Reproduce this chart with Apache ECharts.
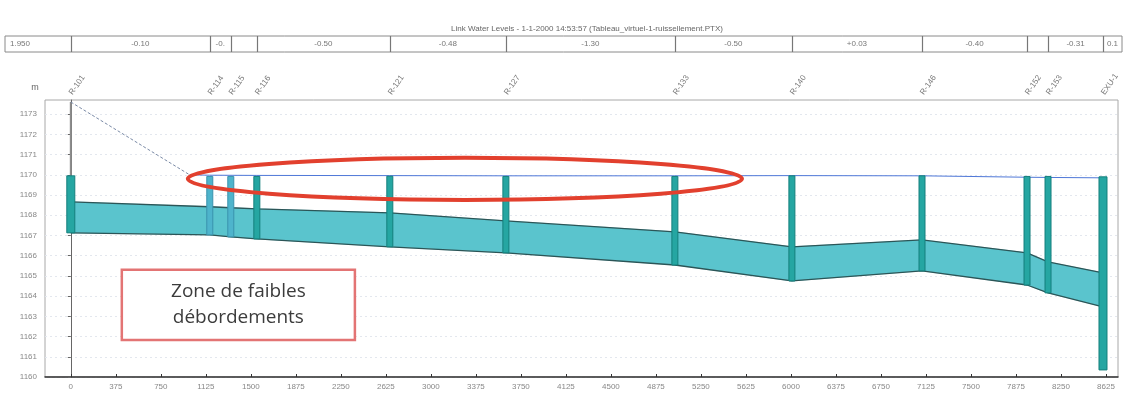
<!DOCTYPE html>
<html>
<head>
<meta charset="utf-8">
<script src="https://cdn.jsdelivr.net/npm/echarts@6/dist/echarts.min.js"></script>
<style>
  html, body { margin: 0; padding: 0; background: #fff; }
  #chart { width: 1129px; height: 396px; }
</style>
</head>
<body>
<div id="chart"></div>
<script>
const titleText = 'Link Water Levels - 1-1-2000 14:53:57 (Tableau_virtuel-1-ruissellement.PTX)';
const nodeNames = ['R-101', 'R-114', 'R-115', 'R-116', 'R-121', 'R-127', 'R-133', 'R-140', 'R-146', 'R-152', 'R-153', 'EXU-1'];
const nodeStations = [0, 1158, 1333, 1550, 2658, 3625, 5033, 6008, 7092, 7967, 8142, 8600];
const crownLevels = [1168.66, 1168.42, 1168.37, 1168.32, 1168.12, 1167.72, 1167.18, 1166.44, 1166.78, 1166.14, 1165.69, 1165.15];
const invertLevels = [1167.13, 1167.03, 1166.93, 1166.83, 1166.44, 1166.14, 1165.54, 1164.75, 1165.25, 1164.55, 1164.16, 1163.47];
const nodeBottoms = [1167.13, 1167.03, 1166.93, 1166.83, 1166.44, 1166.14, 1165.54, 1164.75, 1165.25, 1164.55, 1164.16, 1160.35];
const nodeWaterLevels = [1169.95, 1169.92, 1169.92, 1169.92, 1169.93, 1169.92, 1169.92, 1169.95, 1169.95, 1169.92, 1169.92, 1169.9];
const firstNodeTop = 1173.6;

// ligne d'eau
const hglUpStations = [0, 990];
const hglUpLevels = [1173.6, 1170.0];
const hglStations = [990, 1158, 1550, 2658, 3625, 5033, 6008, 7092, 7967, 8142, 8600];
const hglLevels = [1170.0, 1169.98, 1169.97, 1169.96, 1169.95, 1169.95, 1169.96, 1169.95, 1169.88, 1169.87, 1169.85];

// bandeau du haut (pentes des tronçons)
const conduitLabels = ['-0.10', '-0.', '', '-0.50', '-0.48', '-1.30', '-0.50', '+0.03', '-0.40', '', '-0.31'];
const leftCellLabel = '1.950';
const rightCellLabel = '0.1';

// graduations
const xTicks = [0, 375, 750, 1125, 1500, 1875, 2250, 2625, 3000, 3375, 3750, 4125, 4500, 4875, 5250, 5625, 6000, 6375, 6750, 7125, 7500, 7875, 8250, 8625];
const yTicks = [1160, 1161, 1162, 1163, 1164, 1165, 1166, 1167, 1168, 1169, 1170, 1171, 1172, 1173];
const yUnit = 'm';

// annotations
const zoneStations = [975, 5592];
const zoneLevels = [1168.76, 1170.84];
const noteStations = [425, 2367];
const noteLevels = [1161.83, 1165.3];
const noteText = 'Zone de faibles\ndébordements';

const X_MIN = -215, X_MAX = 8725, Y_MIN = 1160, Y_MAX = 1173.7;

const chart = echarts.init(document.getElementById('chart'));

// un polygone par tronçon : [s amont, s aval, radier amont, radier aval, génératrice amont, génératrice aval]
const pipeSegments = nodeStations.slice(0, -1).map((s, i) => [
  s, nodeStations[i + 1], invertLevels[i], invertLevels[i + 1], crownLevels[i], crownLevels[i + 1],
]);
const invertLine = nodeStations.map((s, i) => [s, invertLevels[i]]);
const crownLine = nodeStations.map((s, i) => [s, crownLevels[i]]);
const nodeData = nodeStations.map((s, i) => [s, nodeBottoms[i], nodeWaterLevels[i]]);

const option = {
  animation: false,
  backgroundColor: '#fff',
  textStyle: { fontFamily: 'Liberation Sans, Arial, sans-serif' },
  title: {
    text: titleText,
    left: 582, top: 20, textAlign: 'center',
    textStyle: { fontSize: 8, fontWeight: 'normal', color: '#666' },
  },
  grid: { left: 45, right: 11, top: 100, bottom: 19, show: true, borderColor: '#a8a8a8', borderWidth: 1 },
  xAxis: [
    {
      type: 'value', min: X_MIN, max: X_MAX, position: 'bottom',
      axisLine: { onZero: false, lineStyle: { color: '#333', width: 1.5 } },
      axisTick: { customValues: xTicks, length: 3, inside: true, lineStyle: { color: '#333' } },
      axisLabel: { customValues: xTicks, fontSize: 8, color: '#888', margin: 6, formatter: v => String(v) },
      splitLine: { show: false },
    },
    {
      type: 'value', min: X_MIN, max: X_MAX, position: 'top',
      axisLine: { show: false },
      axisTick: { show: false },
      axisLabel: {
        customValues: nodeStations, rotate: -55, fontSize: 8, color: '#777', margin: 6,
        formatter: v => nodeNames[nodeStations.indexOf(v)] || '',
      },
      splitLine: { show: false },
    },
  ],
  yAxis: {
    type: 'value', min: Y_MIN, max: Y_MAX,
    axisLine: { show: true, lineStyle: { color: '#666' } },
    axisTick: { customValues: yTicks, length: 3, lineStyle: { color: '#666' } },
    axisLabel: { customValues: yTicks, fontSize: 8, color: '#888', margin: 8, formatter: v => String(v) },
    splitLine: { show: true, lineStyle: { color: '#e3e7ee', type: [2, 3] } },
  },
  series: [
    {
      name: 'conduite', type: 'custom', z: 2, data: pipeSegments,
      renderItem: (params, api) => {
        const a0 = api.coord([api.value(0), api.value(2)]);
        const b0 = api.coord([api.value(1), api.value(3)]);
        const b1 = api.coord([api.value(1), api.value(5)]);
        const a1 = api.coord([api.value(0), api.value(4)]);
        return {
          type: 'polygon',
          shape: { points: [a0, b0, b1, a1] },
          style: { fill: '#5ac4cd', stroke: '#5ac4cd', lineWidth: 0.5 },
        };
      },
    },
    {
      name: 'génératrice', type: 'line', z: 3, data: crownLine, symbol: 'none',
      lineStyle: { color: '#2c5557', width: 1.3 },
    },
    {
      name: 'fil d\'eau', type: 'line', z: 3, data: invertLine, symbol: 'none',
      lineStyle: { color: '#2c5557', width: 1.3 },
    },
    {
      name: 'regard amont', type: 'line', z: 3,
      data: [[nodeStations[0], invertLevels[0]], [nodeStations[0], firstNodeTop]],
      symbol: 'none', lineStyle: { color: '#8c8c8c', width: 2 },
    },
    {
      name: 'ligne d\'eau amont', type: 'line', z: 4,
      data: hglUpStations.map((s, i) => [s, hglUpLevels[i]]),
      symbol: 'none', lineStyle: { color: '#7a8aa6', width: 1, type: [3, 2] },
    },
    {
      name: 'ligne d\'eau', type: 'line', z: 4,
      data: hglStations.map((s, i) => [s, hglLevels[i]]),
      symbol: 'none', lineStyle: { color: '#4f78d8', width: 1 },
    },
    {
      name: 'regards', type: 'custom', z: 5, data: nodeData,
      renderItem: (params, api) => {
        const i = params.dataIndex;
        const top = api.coord([api.value(0), api.value(2)]);
        const bot = api.coord([api.value(0), api.value(1)]);
        const w = (i === 0 || i === nodeData.length - 1) ? 8 : 6;
        const light = i === 1 || i === 2;
        return {
          type: 'rect',
          shape: { x: top[0] - w / 2, y: top[1], width: w, height: bot[1] - top[1] },
          style: { fill: light ? '#4eb4cc' : '#25a6a2', stroke: light ? '#3a93ad' : '#147f7c', lineWidth: 1 },
        };
      },
    },
  ],
};

chart.setOption(option);

// bandeau, ellipse et encadré en surimpression
function px(s, v) { return chart.convertToPixel({ gridIndex: 0 }, [s, v]); }

const graphics = [];
const bandTop = 36, bandBot = 52, bandL = 5, bandR = 1122;
graphics.push({ type: 'line', shape: { x1: bandL, y1: bandTop, x2: bandR, y2: bandTop }, style: { stroke: '#8a8a8a', lineWidth: 1 } });
graphics.push({ type: 'line', shape: { x1: bandL, y1: bandBot, x2: bandR, y2: bandBot }, style: { stroke: '#8a8a8a', lineWidth: 1 } });
[bandL, bandR].forEach(x => graphics.push({ type: 'line', shape: { x1: x, y1: bandTop, x2: x, y2: bandBot }, style: { stroke: '#8a8a8a', lineWidth: 1 } }));
nodeStations.forEach(s => {
  const x = Math.round(px(s, Y_MIN)[0]) + 0.5;
  graphics.push({ type: 'line', shape: { x1: x, y1: bandTop, x2: x, y2: bandBot }, style: { stroke: '#777', lineWidth: 1.2 } });
});
conduitLabels.forEach((t, i) => {
  if (!t) return;
  const x = (px(nodeStations[i], Y_MIN)[0] + px(nodeStations[i + 1], Y_MIN)[0]) / 2;
  graphics.push({ type: 'text', x, y: 44, style: { text: t, fontSize: 8, fill: '#777', align: 'center', verticalAlign: 'middle' } });
});
graphics.push({ type: 'text', x: 10, y: 44, style: { text: leftCellLabel, fontSize: 8, fill: '#777', align: 'left', verticalAlign: 'middle' } });
graphics.push({ type: 'text', x: (px(nodeStations[nodeStations.length - 1], Y_MIN)[0] + bandR) / 2, y: 44, style: { text: rightCellLabel, fontSize: 8, fill: '#777', align: 'center', verticalAlign: 'middle' } });

// unité de l'axe vertical
graphics.push({ type: 'text', x: 35, y: 88, style: { text: yUnit, fontSize: 9, fill: '#666', align: 'center', verticalAlign: 'middle' } });

const zA = px(zoneStations[0], zoneLevels[1]);
const zB = px(zoneStations[1], zoneLevels[0]);
graphics.push({
  type: 'ellipse', z: 100,
  shape: { cx: (zA[0] + zB[0]) / 2, cy: (zA[1] + zB[1]) / 2, rx: (zB[0] - zA[0]) / 2, ry: (zB[1] - zA[1]) / 2 },
  style: { fill: 'none', stroke: '#e2402e', lineWidth: 4 },
});

const nA = px(noteStations[0], noteLevels[1]);
const nB = px(noteStations[1], noteLevels[0]);
graphics.push({
  type: 'rect', z: 100,
  shape: { x: nA[0], y: nA[1], width: nB[0] - nA[0], height: nB[1] - nA[1] },
  style: { fill: '#fff', stroke: '#e37474', lineWidth: 2.5 },
});
graphics.push({
  type: 'text', z: 101, x: (nA[0] + nB[0]) / 2, y: (nA[1] + nB[1]) / 2,
  style: {
    text: noteText, fontSize: 19, lineHeight: 26, fill: '#3c3c3c',
    fontFamily: 'Open Sans, Noto Sans, sans-serif', align: 'center', verticalAlign: 'middle',
  },
});

chart.setOption({ graphic: graphics });
</script>
</body>
</html>
